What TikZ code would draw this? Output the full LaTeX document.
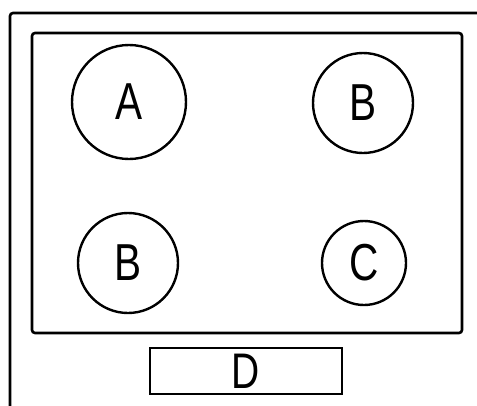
\documentclass[tikz,border=0pt]{standalone}
\usepackage{fontspec}
\newfontfamily\labelfont[FakeStretch=0.78]{Liberation Sans}
\usetikzlibrary{positioning}

\begin{document}
\begin{tikzpicture}[
  x=1pt, y=-1pt,
  frame/.style={line width=2.6pt, rounded corners=3pt},
  spot/.style={draw, circle, line width=2.4pt, inner sep=0pt,
               font=\labelfont\fontsize{52}{52}\selectfont},
  plate/.style={draw, line width=2.4pt, inner sep=0pt,
                minimum width=192pt, minimum height=46pt,
                font=\labelfont\fontsize{50}{50}\selectfont}
]
\useasboundingbox (0,0) rectangle (477,405);
% outer and inner frames
\draw[frame] (480,13) -- (10,13) -- (10,408);
\draw[frame] (32,33) rectangle (462,333);

\node[spot, minimum size=114pt] (spotA)  at (129,102) {A};
\node[spot, minimum size=100pt] (spotB1) at (363,103) {B};
\node[spot, minimum size=100pt] (spotB2) at (128,263) {B};
\node[spot, minimum size=84pt]  (spotC)  at (364,263) {C};
\node[plate] (plateD) at (246,371) {D};
\end{tikzpicture}
\end{document}
